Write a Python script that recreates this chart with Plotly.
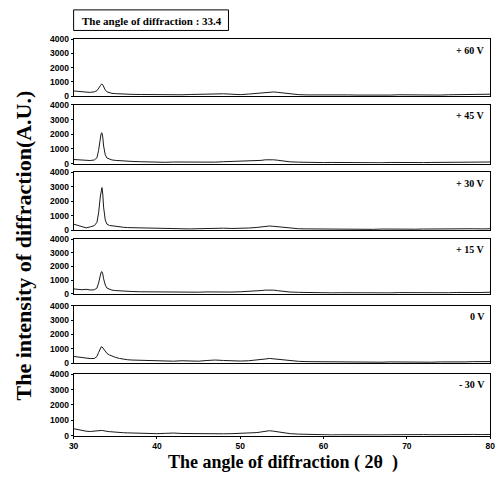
import plotly.graph_objects as go

# ---------------- data ----------------
x_deg = [30.0, 30.5, 31.0, 31.5, 32.0, 32.5, 32.8, 33.0, 33.2, 33.3, 33.4, 33.5, 33.6, 33.8,
         34.0, 34.3, 34.6, 35.0, 35.5, 36.0, 36.5, 37.0,
         38, 39, 40, 41, 42, 43, 44, 45, 46, 47, 48, 49, 50, 51, 52,
         52.5, 53, 53.5, 54, 54.5, 55, 55.5, 56,
         57, 58, 59, 60, 61, 62, 63, 64, 65, 66, 67, 68, 69, 70, 71, 72, 73, 74, 75, 76, 77, 78, 79, 80]

int_p60 = [360, 320, 300, 280, 260, 300, 380, 520, 720, 820, 850, 790, 650, 430,
           300, 230, 190, 170, 150, 140, 130, 120,
           110, 100, 90, 110, 100, 90, 110, 130, 170, 190, 160, 130, 100, 140, 200,
           240, 280, 310, 290, 260, 220, 170, 130,
           100, 80, 70, 80, 70, 60, 80, 70, 60, 70, 80, 70, 90, 80, 70, 90, 80, 70, 90, 100, 90, 110, 120, 130]

int_p45 = [280, 250, 230, 220, 210, 250, 400, 900, 1700, 2050, 2100, 1800, 1200, 600,
           380, 300, 250, 220, 190, 170, 160, 150,
           130, 110, 100, 90, 110, 100, 90, 110, 120, 100, 130, 150, 120, 140, 180,
           220, 260, 280, 260, 230, 190, 150, 120,
           100, 80, 90, 70, 80, 70, 60, 70, 80, 70, 60, 80, 70, 90, 80, 70, 80, 90, 80, 70, 90, 100, 90, 110]

int_p30 = [420, 330, 220, 160, 230, 320, 550, 1200, 2300, 2800, 2950, 2500, 1600, 700,
           420, 330, 300, 260, 230, 200, 180, 170,
           150, 130, 110, 100, 120, 100, 90, 110, 100, 120, 140, 120, 110, 150, 190,
           230, 270, 290, 270, 240, 200, 160, 130,
           100, 90, 80, 70, 80, 60, 70, 80, 70, 60, 80, 70, 80, 90, 70, 80, 90, 80, 70, 90, 80, 100, 90, 100]

int_p15 = [360, 320, 300, 330, 280, 300, 420, 800, 1350, 1580, 1620, 1450, 1100, 650,
           420, 320, 270, 240, 210, 190, 180, 170,
           150, 140, 120, 110, 130, 110, 100, 120, 140, 120, 110, 130, 150, 170, 210,
           240, 270, 290, 270, 230, 190, 160, 130,
           110, 90, 80, 90, 70, 80, 70, 60, 80, 70, 80, 70, 90, 80, 90, 80, 70, 90, 80, 100, 90, 110, 100, 120]

int_0 = [480, 440, 400, 370, 330, 340, 480, 750, 1050, 1130, 1150, 1080, 960, 820,
         690, 580, 490, 420, 340, 280, 250, 230,
         210, 200, 170, 160, 150, 180, 160, 150, 200, 230, 200, 170, 160, 180, 220,
         260, 300, 340, 310, 270, 230, 190, 160,
         140, 120, 110, 100, 90, 100, 80, 90, 80, 90, 80, 100, 90, 80, 100, 90, 80, 100, 90, 110, 100, 120, 110, 120]

int_m30 = [460, 400, 360, 300, 280, 320, 340, 350, 340, 360, 350, 340, 320, 300,
           290, 270, 250, 230, 220, 200, 190, 180,
           160, 150, 140, 160, 180, 150, 140, 160, 150, 140, 130, 140, 150, 170, 210,
           250, 290, 330, 300, 260, 220, 170, 140,
           110, 90, 80, 70, 60, 70, 60, 50, 60, 70, 60, 70, 80, 70, 60, 80, 70, 80, 90, 80, 100, 90, 80, 90]

series_values = [int_p60, int_p45, int_p30, int_p15, int_0, int_m30]
series_labels = ["+ 60 V", "+ 45 V", "+ 30 V", "+ 15 V", "0 V", "- 30 V"]
y_ticks = [0, 1000, 2000, 3000, 4000]
x_ticks = [30, 40, 50, 60, 70, 80]
peak_angle = "33.4"

# ---------------- layout geometry ----------------
W, H = 504, 479
panels_px = [(35, 93), (102, 162), (171, 230), (239, 295), (307, 366), (377, 440)]
x_left, x_right = 70, 495

def py(p):
    return 1 - p / H

def px(p):
    return p / W

fig = go.Figure()
layout = dict(
    width=W, height=H,
    margin=dict(l=0, r=0, t=0, b=0),
    paper_bgcolor="white", plot_bgcolor="white",
    showlegend=False,
    font=dict(family="Liberation Serif", color="black"),
)

tick_font = dict(family="Liberation Sans", size=8.5, color="black", weight="bold")
annotations = []
n = len(series_values)
for i, (vals, lab, (top, bot)) in enumerate(zip(series_values, series_labels, panels_px)):
    k = i + 1
    xa = "x" if k == 1 else f"x{k}"
    ya = "y" if k == 1 else f"y{k}"
    fig.add_trace(go.Scatter(x=x_deg, y=vals, mode="lines", xaxis=xa, yaxis=ya,
                             line=dict(color="#1a1a1a", width=1), hoverinfo="skip"))
    last = (i == n - 1)
    layout["xaxis" if k == 1 else f"xaxis{k}"] = dict(
        domain=[px(x_left), px(x_right)], anchor=ya, range=[30, 80],
        showline=True, mirror=True, linecolor="black", linewidth=1,
        showgrid=False, zeroline=False,
        tickvals=x_ticks, showticklabels=last,
        ticks="outside" if last else "", ticklen=2, tickcolor="black",
        tickfont=tick_font,
    )
    layout["yaxis" if k == 1 else f"yaxis{k}"] = dict(
        domain=[py(bot), py(top)], anchor=xa, range=[0, 4000],
        showline=True, mirror=True, linecolor="black", linewidth=1,
        showgrid=False, zeroline=False,
        tickvals=y_ticks, ticks="outside", ticklen=2, tickcolor="black",
        tickfont=tick_font,
    )
    annotations.append(dict(
        text=lab, xref="paper", yref="paper", x=px(492), y=py(top + 11),
        xanchor="right", yanchor="middle", showarrow=False,
        font=dict(family="Liberation Serif", size=10, color="black", weight="bold"),
    ))

# boxed note
annotations.append(dict(
    text="The angle of diffraction : " + peak_angle, xref="paper", yref="paper",
    x=px(150), y=py(16), xanchor="center", yanchor="middle", showarrow=False,
    font=dict(family="Liberation Serif", size=11, color="black", weight="bold"),
))
shapes = [dict(type="rect", xref="paper", yref="paper",
               x0=px(70), x1=px(228), y0=py(26), y1=py(5),
               line=dict(color="black", width=1))]

# axis titles
annotations.append(dict(
    text="The angle of diffraction ( 2\u03b8  )", xref="paper", yref="paper",
    x=px(284), y=py(467), xanchor="center", yanchor="middle", showarrow=False,
    font=dict(family="Liberation Serif", size=18, color="black", weight="bold"),
))
annotations.append(dict(
    text="The intensity of diffraction(A.U.)", xref="paper", yref="paper",
    x=px(19), y=py(246), xanchor="center", yanchor="middle", showarrow=False,
    textangle=-90,
    font=dict(family="Liberation Serif", size=22, color="black", weight="bold"),
))

layout["annotations"] = annotations
layout["shapes"] = shapes
fig.update_layout(**layout)
fig.write_html(
    "out.html",
    config={"displayModeBar": False, "staticPlot": True},
    post_script="document.body.style.margin='0';document.body.style.overflow='hidden';"
                "document.documentElement.style.overflow='hidden';",
)
